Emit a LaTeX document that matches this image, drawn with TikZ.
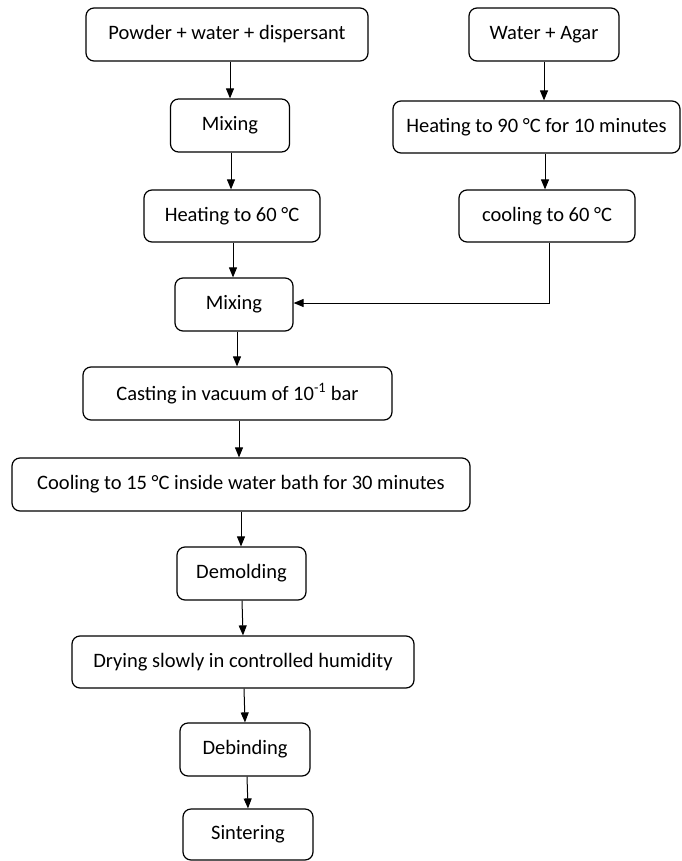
\documentclass[tikz,border=0pt]{standalone}
\usepackage{fontspec}
\setmainfont{Carlito}
\usetikzlibrary{arrows.meta}
\begin{document}
\begin{tikzpicture}[x=1pt,y=-1pt,
  box/.style={draw, line width=1.2pt, rounded corners=8pt, minimum height=53pt, inner sep=0pt, font=\fontsize{20.5}{22}\selectfont, anchor=center},
  arr/.style={line width=1pt, -{Triangle[length=10pt,width=8pt]}}]
\useasboundingbox (0,0) rectangle (681,861);
\node[box, minimum width=282pt] (P) at (227,34.5) {Powder + water + dispersant};
\node[box, minimum width=150pt] (WA) at (544,34.5) {Water + Agar};
\node[box, minimum width=119pt] (M1) at (230,125.5) {Mixing};
\node[box, minimum width=287pt, minimum height=52pt] (H90) at (536.5,127) {Heating to 90 °C for 10 minutes};
\node[box, minimum width=176pt, minimum height=52pt] (H60) at (232,216) {Heating to 60 °C};
\node[box, minimum width=176pt, minimum height=52pt] (C60) at (547,216) {cooling to 60 °C};
\node[box, minimum width=118pt] (M2) at (234,304.5) {Mixing};
\node[box, minimum width=309pt] (Cast) at (237.5,393.5) {Casting in vacuum of 10\textsuperscript{-1} bar};
\node[box, minimum width=458pt] (Cool) at (241,484.5) {Cooling to 15 °C inside water bath for 30 minutes};
\node[box, minimum width=129pt] (Dem) at (241.5,573.5) {Demolding};
\node[box, minimum width=342pt, minimum height=52pt] (Dry) at (243,662) {Drying slowly in controlled humidity};
\node[box, minimum width=130pt] (Deb) at (245,749.5) {Debinding};
\node[box, minimum width=130pt, minimum height=51pt] (Sin) at (248,834.5) {Sintering};
\draw[arr] (M1.north |- P.south) -- (M1.north);
\draw[arr] (231,0 |- M1.south) -- (231,0 |- H60.north);
\draw[arr] (233,0 |- H60.south) -- (233,0 |- M2.north);
\draw[arr] (237,0 |- M2.south) -- (237,0 |- Cast.north);
\draw[arr] (239,0 |- Cast.south) -- (239,0 |- Cool.north);
\draw[arr] (241,0 |- Cool.south) -- (241,0 |- Dem.north);
\draw[arr] (242,0 |- Dem.south) -- (243,0 |- Dry.north);
\draw[arr] (244,0 |- Dry.south) -- (245,0 |- Deb.north);
\draw[arr] (247,0 |- Deb.south) -- (248,0 |- Sin.north);
\draw[arr] (544,0 |- WA.south) -- (544,0 |- H90.north);
\draw[arr] (545,0 |- H90.south) -- (545,0 |- C60.north);
\draw[arr] (549,0 |- C60.south) |- (M2.east |- 0,303);
\end{tikzpicture}
\end{document}
